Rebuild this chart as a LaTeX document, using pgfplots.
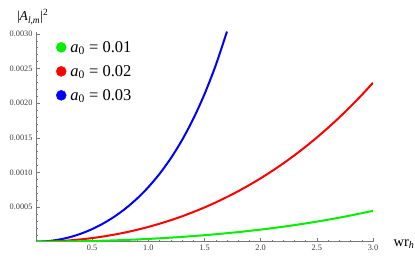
\documentclass[border=0pt]{standalone}
\usepackage{fontspec}
\setmainfont{Liberation Serif}
\usepackage{pgfplots}
\pgfplotsset{compat=1.18}
\definecolor{mgreen}{RGB}{0,240,0}
\definecolor{mred}{RGB}{255,0,0}
\definecolor{mblue}{RGB}{0,0,255}
\definecolor{axgray}{RGB}{120,120,120}
\definecolor{labgray}{RGB}{60,60,60}
\begin{document}
\begin{tikzpicture}
\useasboundingbox (-36pt,-20.3pt) rectangle (379pt,241.7pt);
\begin{axis}[
  scale only axis, width=337pt, height=210pt,
  at={(0,0)}, anchor=origin,
  xmin=0, xmax=3, ymin=0, ymax=0.00303,
  axis lines=left, axis line style={-, axgray, line width=0.5pt},
  xtick={0.5,1.0,1.5,2.0,2.5,3.0},
  ytick={0.0005,0.0010,0.0015,0.0020,0.0025,0.0030},
  minor xtick={0.1,0.2,0.3,0.4,0.6,0.7,0.8,0.9,1.1,1.2,1.3,1.4,1.6,1.7,1.8,1.9,2.1,2.2,2.3,2.4,2.6,2.7,2.8,2.9},
  minor ytick={0.0001,0.0002,0.0003,0.0004,0.0006,0.0007,0.0008,0.0009,0.0011,0.0012,0.0013,0.0014,0.0016,0.0017,0.0018,0.0019,0.0021,0.0022,0.0023,0.0024,0.0026,0.0027,0.0028,0.0029},
  tick align=inside,
  major tick length=4pt, minor tick length=2pt,
  tick style={axgray, line width=0.4pt},
  scaled y ticks=false,
  yticklabel style={/pgf/number format/.cd, fixed, fixed zerofill, precision=4, assume math mode=true},
  xticklabel style={/pgf/number format/.cd, fixed, fixed zerofill, precision=1, assume math mode=true},
  ticklabel style={font=\fontsize{8.3}{9}\selectfont, text=labgray},
  ylabel={|\textit{A}\textsubscript{\textit{l},\textit{m}}|\textsuperscript{2}},
  ylabel style={rotate=-90, at={(axis description cs:-0.010,1.07)}, anchor=center, font=\fontsize{13.5}{15}\selectfont},
  xlabel={wr\textsubscript{\textit{h}}},
  xlabel style={anchor=center, at={(axis description cs:1.092,-0.012)}, font=\fontsize{14.5}{16}\selectfont},
  legend style={draw=none, fill=none, at={(axis description cs:0.05,0.975)}, anchor=north west,
    font=\fontsize{16.5}{19}\selectfont, row sep=7.5pt, column sep=2pt},
  legend cell align=left,
  legend image code/.code={\fill[#1] (0pt,0pt) circle (5pt);},
  clip=true,
]
\addplot[mblue, line width=2pt, smooth, forget plot] coordinates {
(0,0) (0.1,7.2e-6) (0.2,2.882e-5) (0.3,6.496e-5) (0.4,1.1589e-4) (0.5,1.8209e-4) (0.6,2.6441e-4) (0.7,3.6406e-4) (0.8,4.8275e-4) (0.9,6.2276e-4) (1.0,7.87e-4) (1.1,9.791e-4) (1.2,1.2035e-3) (1.3,1.4656e-3) (1.4,1.7716e-3) (1.5,2.1288e-3) (1.6,2.5457e-3) (1.7,3.0321e-3)};
\addplot[mred, line width=2pt, smooth, forget plot] coordinates {
(0,0) (0.1,2.08e-6) (0.2,8.33e-6) (0.3,1.874e-5) (0.4,3.35e-5) (0.5,5.23e-5) (0.6,7.56e-5) (0.7,1.032e-4) (0.8,1.352e-4) (0.9,1.719e-4) (1.0,2.132e-4) (1.1,2.593e-4) (1.2,3.103e-4) (1.3,3.664e-4) (1.4,4.277e-4) (1.5,4.943e-4) (1.6,5.666e-4) (1.7,6.446e-4) (1.8,7.285e-4) (1.9,8.186e-4) (2.0,9.152e-4) (2.1,1.0184e-3) (2.2,1.1285e-3) (2.3,1.2458e-3) (2.4,1.3706e-3) (2.5,1.5031e-3) (2.6,1.6437e-3) (2.7,1.7927e-3) (2.8,1.9503e-3) (2.9,2.117e-3) (3.0,2.2932e-3)};
\addplot[mgreen, line width=2pt, smooth, forget plot] coordinates {
(0,0) (0.25,2.44e-6) (0.5,9.82e-6) (0.75,2.231e-5) (1.0,4.017e-5) (1.25,6.38e-5) (1.5,9.37e-5) (1.75,1.304e-4) (2.0,1.747e-4) (2.25,2.274e-4) (2.5,2.895e-4) (2.75,3.619e-4) (3.0,4.458e-4)};
\addlegendimage{mgreen}
\addlegendentry{\textit{a}\textsubscript{0} = 0.01}
\addlegendimage{mred}
\addlegendentry{\textit{a}\textsubscript{0} = 0.02}
\addlegendimage{mblue}
\addlegendentry{\textit{a}\textsubscript{0} = 0.03}
\end{axis}
\end{tikzpicture}
\end{document}
